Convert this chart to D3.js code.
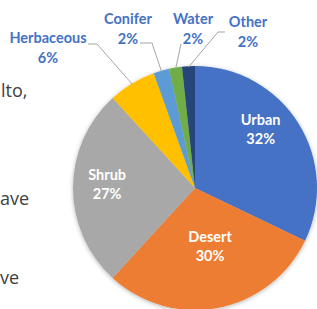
<!DOCTYPE html>
<html>
<head>
<meta charset="utf-8">
<script src="https://cdn.jsdelivr.net/npm/d3@7"></script>
<style>
  html, body { margin: 0; padding: 0; background: #fff; overflow: hidden; }
  svg { display: block; }
  .lbl { font-family: Lato, "Open Sans", sans-serif; font-weight: 700; font-size: 14.5px; }
  .body-text { font-family: "Open Sans", sans-serif; font-size: 18px; fill: #404040; }
</style>
</head>
<body>
<div id="chart"></div>
<script>
// land cover shares, clockwise from 12 o'clock
var categories = ["Urban", "Desert", "Shrub", "Herbaceous", "Conifer", "Water", "Other"];
var values = [32.1, 29.7, 26.4, 6.3, 2.1, 1.7, 1.7];
var pctLabels = ["32%", "30%", "27%", "6%", "2%", "2%", "2%"];
var colors = ["#4472c4", "#ed7d31", "#a8a8a8", "#ffc000", "#5b9bd5", "#70ad47", "#264478"];

// bits of page text left of the chart (crop of a document)
var bodyLines = [
    {text: "lto,", x: 1, y: 97},
    {text: "ave", x: 0, y: 205},
    {text: "ve", x: 0, y: 284}
];

var width = 317,
    height = 309;

var cx = 195, cy = 188, radius = 122;

// inside labels: distance and angle from the center (excel "best fit" spots)
var insideLabelR = {Urban: 89, Desert: 59, Shrub: 88};
var insideLabelAngle = {Urban: 0.83, Desert: 2.884, Shrub: 4.769};

// outside labels: text center and leader elbow
var outsideLabels = {
    Herbaceous: {x: 48, y: 43, line: [[88, 44], [97, 44]]},
    Conifer: {x: 128, y: 24, line: [[140, 43], [152, 43]]},
    Water: {x: 193, y: 24, line: [[181, 44]]},
    Other: {x: 248, y: 27, line: [[225, 32], [218, 32]]}
};

var svg = d3.select("#chart")
    .append("svg")
    .attr("width", width)
    .attr("height", height);

var defs = svg.append("defs");
var f = defs.append("filter")
    .attr("id", "shadow")
    .attr("x", "-20%").attr("y", "-20%")
    .attr("width", "140%").attr("height", "140%");
f.append("feDropShadow")
    .attr("dx", 0).attr("dy", 1)
    .attr("stdDeviation", 2.2)
    .attr("flood-color", "#000")
    .attr("flood-opacity", 0.3);

svg.selectAll(".body-text")
    .data(bodyLines)
    .enter().append("text")
    .attr("class", "body-text")
    .attr("x", function(d) { return d.x; })
    .attr("y", function(d) { return d.y; })
    .text(function(d) { return d.text; });

var data = categories.map(function(c, i) {
    return {name: c, value: values[i], pct: pctLabels[i], color: colors[i]};
});

var pie = d3.pie()
    .sort(null)
    .value(function(d) { return d.value; });

var arc = d3.arc()
    .innerRadius(0)
    .outerRadius(radius);

var arcs = pie(data);

var g = svg.append("g")
    .attr("transform", "translate(" + cx + "," + cy + ")");

g.append("g")
    .attr("filter", "url(#shadow)")
    .selectAll("path")
    .data(arcs)
    .enter().append("path")
    .attr("d", arc)
    .attr("fill", function(d) { return d.data.color; });

// inside labels
arcs.forEach(function(d) {
    var r = insideLabelR[d.data.name];
    if (!r) return;
    var a = insideLabelAngle[d.data.name];
    var x = cx + r * Math.sin(a),
        y = cy - r * Math.cos(a);
    var t = svg.append("text")
        .attr("class", "lbl")
        .attr("text-anchor", "middle")
        .attr("fill", "#fff");
    t.append("tspan").attr("x", x).attr("y", y - 3).text(d.data.name);
    t.append("tspan").attr("x", x).attr("y", y + 16).text(d.data.pct);
});

// outside labels with leader lines
arcs.forEach(function(d) {
    var o = outsideLabels[d.data.name];
    if (!o) return;
    var mid = (d.startAngle + d.endAngle) / 2;
    var edge = [cx + (radius - 1) * Math.sin(mid), cy - (radius - 1) * Math.cos(mid)];
    var pts = o.line.concat([edge]);
    svg.append("path")
        .attr("d", d3.line()(pts))
        .attr("fill", "none")
        .attr("stroke", "#a6a6a6")
        .attr("stroke-width", 1);
    var t = svg.append("text")
        .attr("class", "lbl")
        .attr("text-anchor", "middle")
        .attr("fill", "#4472c4");
    t.append("tspan").attr("x", o.x).attr("y", o.y).text(d.data.name);
    t.append("tspan").attr("x", o.x).attr("y", o.y + 20).text(d.data.pct);
});
</script>
</body>
</html>
